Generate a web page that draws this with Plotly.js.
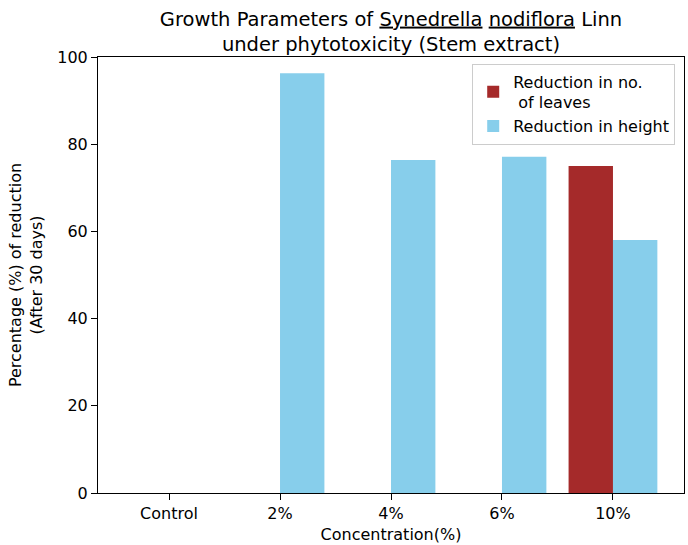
<!DOCTYPE html>
<html><head><meta charset="utf-8">
<script src="https://cdn.plot.ly/plotly-3.0.1.min.js"></script>
<style>body{margin:0;background:#fff}#c{width:688px;height:545px}</style>
</head><body><div id="c"></div>
<script>
var categories = ["Control", "2%", "4%", "6%", "10%"];
var leavesReduction = [0, 0, 0, 0, 75.0];
var heightReduction = [0, 96.3, 76.4, 77.1, 58.0];
var positions = categories.map(function(_, i){ return i; });

var font = {family: "DejaVu Sans, sans-serif", color: "#000", size: 16};
var traces = [
  {type: "bar", x: positions, y: leavesReduction, width: 0.4, offset: -0.4,
   name: "Reduction in no.<br> of leaves", marker: {color: "#a52a2a"}},
  {type: "bar", x: positions, y: heightReduction, width: 0.4, offset: 0,
   name: "Reduction in height", marker: {color: "#87ceeb"}}
];
var axisCommon = {showline: true, mirror: true, linecolor: "#000", linewidth: 1,
  ticks: "outside", ticklen: 6, tickcolor: "#000", showgrid: false, zeroline: false,
  tickfont: font};
var layout = {
  width: 688, height: 545,
  margin: {l: 98, r: 4, t: 57, b: 52},
  paper_bgcolor: "#fff", plot_bgcolor: "#fff",
  font: font,
  showlegend: true,
  barmode: "overlay",
  title: {text: "Growth Parameters of <u>Synedrella</u> <u>nodiflora</u> Linn<br>under phytotoxicity (Stem extract)",
    font: {family: "DejaVu Sans, sans-serif", size: 19.5, color: "#000", lineposition: "none"},
    xref: "paper", x: 0.5, xanchor: "center", yref: "container", y: 0.953, yanchor: "middle"},
  xaxis: Object.assign({}, axisCommon, {range: [-0.64, 4.64], tickvals: positions, ticktext: categories,
    title: {text: "Concentration(%)", font: font, standoff: 6}}),
  yaxis: Object.assign({}, axisCommon, {range: [0, 100], tickvals: [0,20,40,60,80,100],
    title: {text: "Percentage (%) of reduction<br>(After 30 days)", font: font, standoff: 10}}),
  legend: {x: 0.985, xanchor: "right", y: 0.985, yanchor: "top", bgcolor: "rgba(255,255,255,0.8)",
    bordercolor: "#cccccc", borderwidth: 1, font: font, traceorder: "normal"}
};
Plotly.newPlot("c", traces, layout, {staticPlot: true});
</script></body></html>
